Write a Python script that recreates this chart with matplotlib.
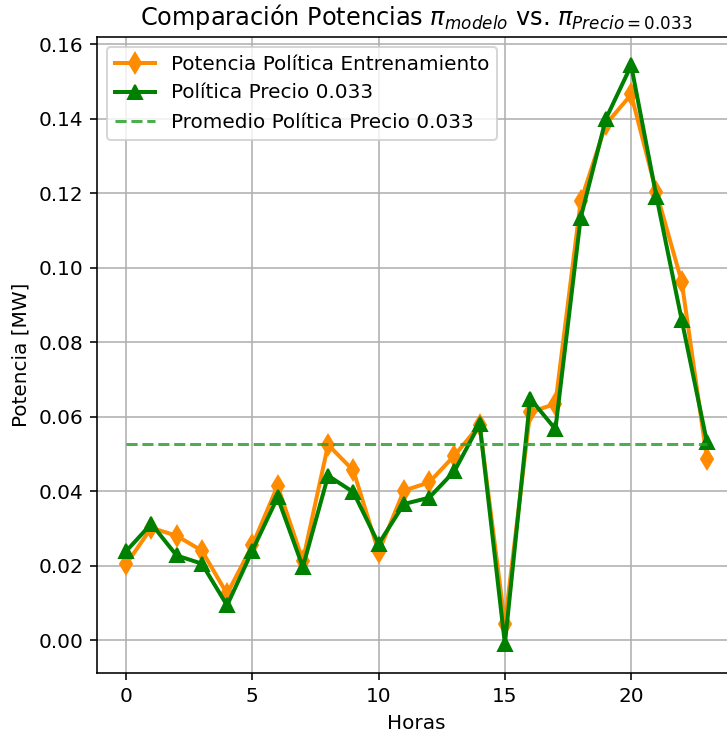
import matplotlib
matplotlib.use("Agg")

import matplotlib.pyplot as plt
import numpy as np

# Hourly power (MW) for the trained policy and the fixed-price policy
horas = np.arange(24)
potencia_entrenamiento = [
    0.0204, 0.0302, 0.0281, 0.0241, 0.0125, 0.0255, 0.0415, 0.0214,
    0.0525, 0.0456, 0.0237, 0.0402, 0.0424, 0.0496, 0.0578, 0.0045,
    0.0612, 0.0635, 0.1178, 0.1385, 0.1465, 0.1202, 0.0963, 0.0487,
]
politica_precio = [
    0.0239, 0.0313, 0.0228, 0.0206, 0.0094, 0.0241, 0.0384, 0.0197,
    0.0442, 0.0398, 0.0259, 0.0366, 0.0383, 0.0454, 0.0581, -0.0009,
    0.0649, 0.0567, 0.1134, 0.1400, 0.1543, 0.1191, 0.0860, 0.0532,
]
promedio_precio = np.mean(politica_precio)

DPI = 144
fig = plt.figure(figsize=(727 / DPI, 734 / DPI), dpi=DPI)
ax = fig.add_axes([97 / 727, 1 - 672.7 / 734, 639 / 727, 636.2 / 734])

ax.plot(horas, potencia_entrenamiento, color="darkorange", marker="d",
        markersize=7, linewidth=2, label="Potencia Política Entrenamiento")
ax.plot(horas, politica_precio, color="green", marker="^",
        markersize=7, linewidth=2, label="Política Precio 0.033")
ax.plot(horas, [promedio_precio] * len(horas), color="tab:green", linestyle="--",
        alpha=0.85, label="Promedio Política Precio 0.033")

ax.set_xlabel("Horas")
ax.set_ylabel("Potencia [MW]")
ax.set_title(r"Comparación Potencias $\pi_{modelo}$ vs. $\pi_{Precio=0.033}$")
ax.grid(True)
ax.legend(loc="upper left")

fig.savefig("out.png", dpi=DPI)
